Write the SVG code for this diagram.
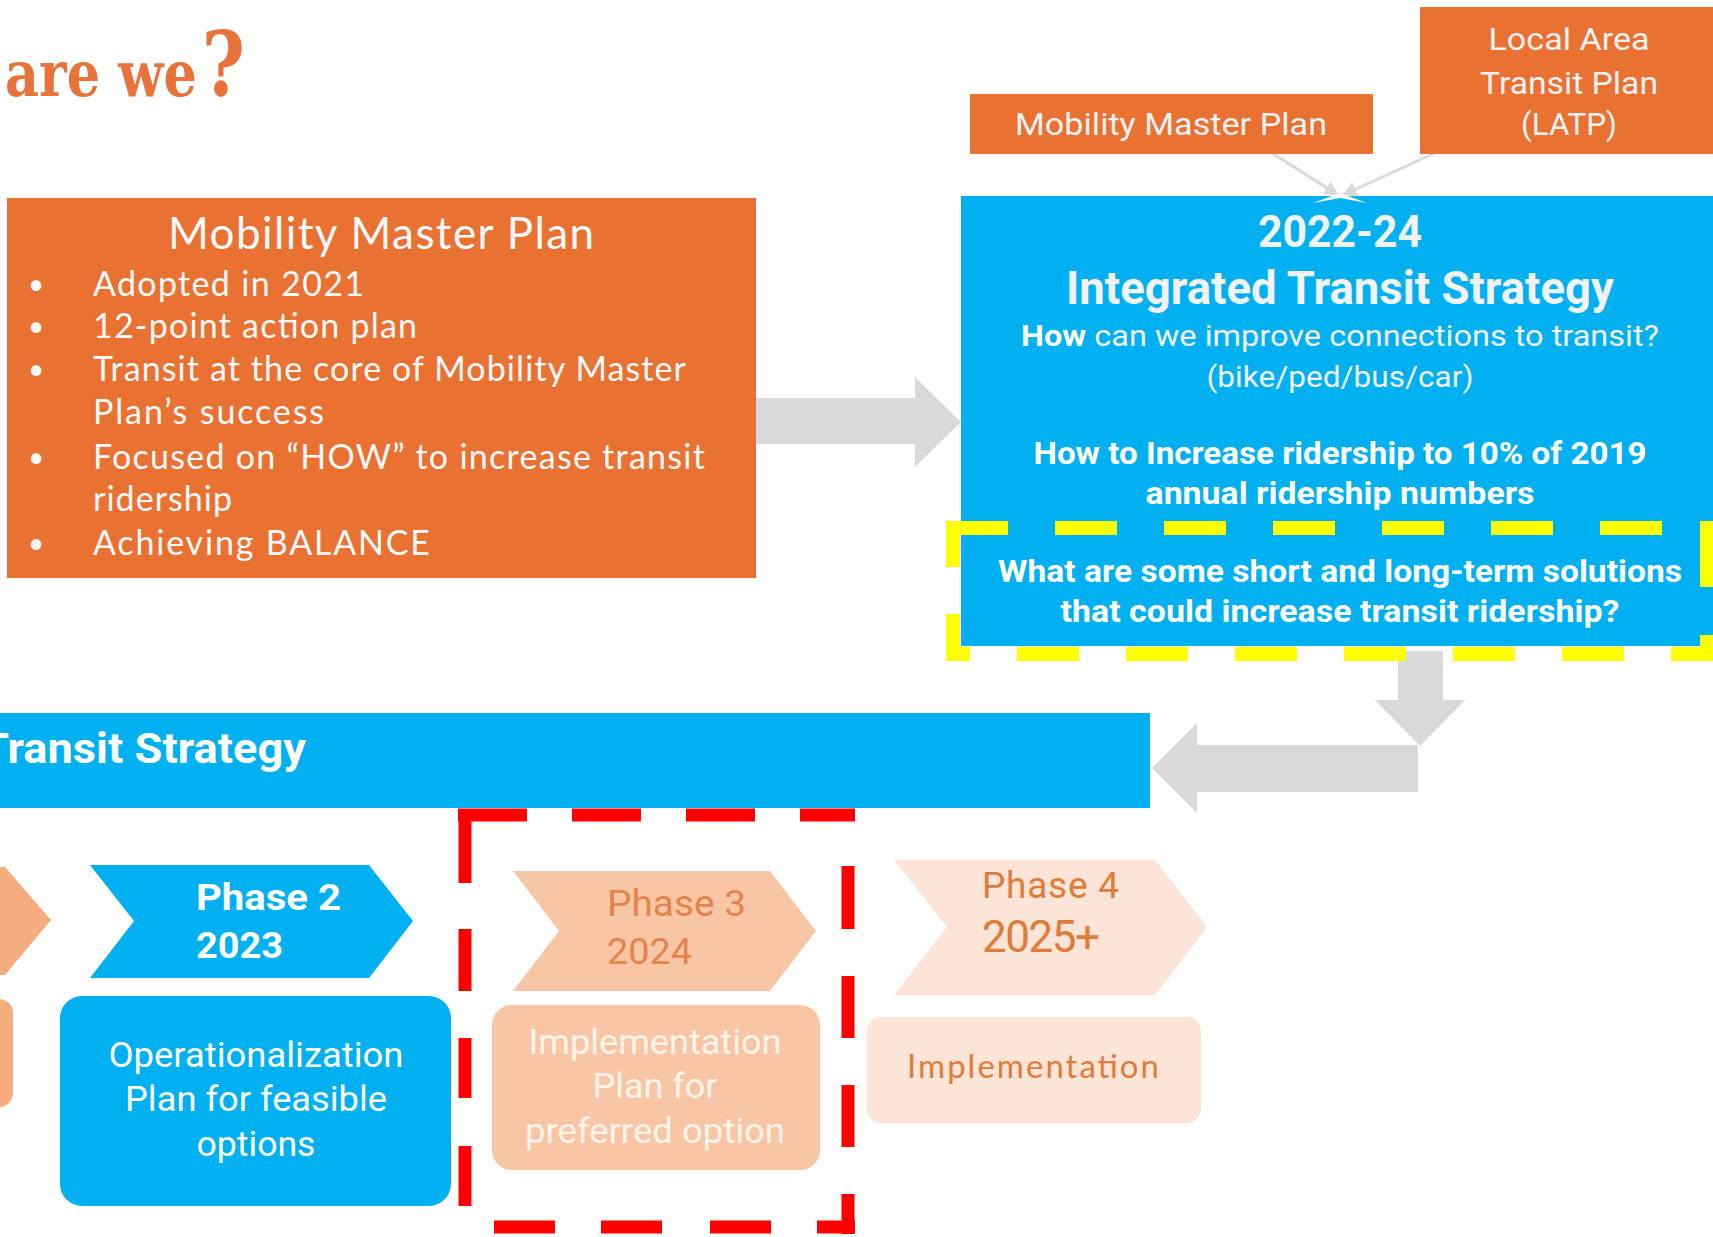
<svg xmlns="http://www.w3.org/2000/svg" width="1713" height="1237" viewBox="0 0 1713 1237">
<style>
.orange{fill:#E97132}
.blue{fill:#00B0F0}
.grey{fill:#D9D9D9}
.nun{font-family:Lato,"Open Sans",sans-serif;fill:#FAFAFA}
.cond{font-family:Roboto,"Liberation Sans",sans-serif}
.lt{fill:#F2F2F2}
.wt{fill:#FFFFFF}
.ph{fill:#E4834A}
.mid{text-anchor:middle}
.ydash{stroke:#FFFF00;stroke-width:14;fill:none}
.rdash{stroke:#FF0000;stroke-width:13;fill:none}
</style>
<defs>
<marker id="ah" viewBox="0 0 10 10" refX="9" refY="5" markerWidth="5" markerHeight="5" orient="auto" markerUnits="strokeWidth">
<path d="M0,0 L10,5 L0,10 z" fill="#D9D9D9"/>
</marker>
</defs>
<rect width="1713" height="1237" fill="#FFFFFF"/>

<g id="title">
<text transform="translate(5,96) scale(0.82,1)" font-family="'DejaVu Serif',serif" font-weight="bold" font-size="64" fill="#E8733A">are we<tspan font-size="90" dx="6">?</tspan></text>
</g>

<g id="connectors">
<polygon class="grey" points="756,398 915,398 915,377 961,422 915,467 915,444 756,444"/>
<polygon class="grey" points="1398,651 1443,651 1443,700 1465,700 1420,746 1375,700 1398,700"/>
<polygon class="grey" points="1418,745 1197,745 1197,723 1152,768 1197,813 1197,792 1418,792"/>
<line x1="1272" y1="153" x2="1338" y2="195" stroke="#D9D9D9" stroke-width="3" marker-end="url(#ah)"/>
<line x1="1437" y1="152" x2="1343" y2="195" stroke="#D9D9D9" stroke-width="3" marker-end="url(#ah)"/>
</g>

<g id="mmp-box">
<rect class="orange" x="7" y="198" width="749" height="380"/>
<text class="nun mid" x="381" y="249" font-size="44" textLength="426">Mobility Master Plan</text>
<g font-size="34" class="nun">
<text x="28" y="294" font-size="28">•</text>
<text x="93" y="296" textLength="271">Adopted in 2021</text>
<text x="28" y="336" font-size="28">•</text>
<text x="93" y="338" textLength="324">12-point action plan</text>
<text x="28" y="379" font-size="28">•</text>
<text x="93" y="381" textLength="593">Transit at the core of Mobility Master</text>
<text x="93" y="424" textLength="231">Plan’s success</text>
<text x="28" y="467" font-size="28">•</text>
<text x="93" y="469" textLength="612">Focused on “HOW” to increase transit</text>
<text x="93" y="511" textLength="139">ridership</text>
<text x="28" y="553" font-size="28">•</text>
<text x="93" y="555" textLength="337">Achieving BALANCE</text>
</g>
</g>

<g id="mmp-small">
<rect class="orange" x="970" y="94" width="403" height="60"/>
<text class="cond lt mid" x="1171" y="135" font-size="32" textLength="312" lengthAdjust="spacingAndGlyphs">Mobility Master Plan</text>
</g>

<g id="latp">
<rect class="orange" x="1420" y="7" width="293" height="147"/>
<text class="cond lt mid" x="1569" y="50" font-size="32" textLength="161" lengthAdjust="spacingAndGlyphs">Local Area</text>
<text class="cond lt mid" x="1569" y="94" font-size="32" textLength="178" lengthAdjust="spacingAndGlyphs">Transit Plan</text>
<text class="cond lt mid" x="1569" y="135" font-size="32" textLength="96" lengthAdjust="spacingAndGlyphs">(LATP)</text>
</g>

<g id="its">
<rect class="blue" x="961" y="196" width="752" height="450"/>
<polygon fill="#FFFFFF" points="1313,203 1340,193 1367,203 1340,198"/>
<text class="cond lt mid" x="1340" y="247" font-size="44" font-weight="bold" textLength="164" lengthAdjust="spacingAndGlyphs">2022-24</text>
<text class="cond lt mid" x="1340" y="304" font-size="46" font-weight="bold" textLength="548" lengthAdjust="spacingAndGlyphs">Integrated Transit Strategy</text>
<text class="cond lt mid" x="1340" y="346" font-size="30" textLength="638" lengthAdjust="spacingAndGlyphs"><tspan font-weight="bold" fill="#FFFFFF">How</tspan> can we improve connections to transit?</text>
<text class="cond lt mid" x="1340" y="387" font-size="30" textLength="267" lengthAdjust="spacingAndGlyphs">(bike/ped/bus/car)</text>
<text class="cond wt mid" x="1340" y="464" font-size="31" font-weight="bold" textLength="613" lengthAdjust="spacingAndGlyphs">How to Increase ridership to 10% of 2019</text>
<text class="cond wt mid" x="1340" y="504" font-size="31" font-weight="bold" textLength="389" lengthAdjust="spacingAndGlyphs">annual ridership numbers</text>
<text class="cond wt mid" x="1340" y="582" font-size="31" font-weight="bold" textLength="684" lengthAdjust="spacingAndGlyphs">What are some short and long-term solutions</text>
<text class="cond wt mid" x="1340" y="622" font-size="31" font-weight="bold" textLength="559" lengthAdjust="spacingAndGlyphs">that could increase transit ridership?</text>
<line class="ydash" x1="946" y1="528" x2="1714" y2="528" stroke-dasharray="62 47"/>
<line class="ydash" x1="953" y1="521" x2="953" y2="661" stroke-dasharray="46 47"/>
<line class="ydash" x1="1707" y1="521" x2="1707" y2="661" stroke-dasharray="66 48"/>
<line class="ydash" x1="946" y1="654" x2="1714" y2="654" stroke-dasharray="62 47" stroke-dashoffset="38"/>
</g>

<g id="strategy-bar">
<rect class="blue" x="-5" y="713" width="1155" height="95"/>
<text class="cond wt" x="306" y="763" font-size="42" font-weight="bold" text-anchor="end" textLength="325" lengthAdjust="spacingAndGlyphs">Transit Strategy</text>
</g>

<g id="phase1">
<polygon fill="#F4AC80" points="-20,867 5,867 51,920 5,975 -20,975"/>
<rect fill="#F4AC80" x="-30" y="999" width="43" height="108" rx="14"/>
</g>

<g id="phase2">
<polygon class="blue" points="90,865 369,865 413,921 369,978 90,978 134,921"/>
<text class="cond wt" x="196" y="910" font-size="37" font-weight="bold" textLength="145" lengthAdjust="spacingAndGlyphs">Phase 2</text>
<text class="cond wt" x="196" y="958" font-size="37" font-weight="bold" textLength="87" lengthAdjust="spacingAndGlyphs">2023</text>
<rect class="blue" x="60" y="996" width="391" height="210" rx="22"/>
<text class="cond wt mid" x="256" y="1067" font-size="35" textLength="295" lengthAdjust="spacingAndGlyphs">Operationalization</text>
<text class="cond wt mid" x="256" y="1111" font-size="35" textLength="262" lengthAdjust="spacingAndGlyphs">Plan for feasible</text>
<text class="cond wt mid" x="256" y="1156" font-size="35" textLength="119" lengthAdjust="spacingAndGlyphs">options</text>
</g>

<g id="phase3">
<polygon fill="#F8C6A5" points="513,871 770,871 816,931 770,991 513,991 559,931"/>
<text class="cond ph" x="607" y="916" font-size="37" textLength="139" lengthAdjust="spacingAndGlyphs">Phase 3</text>
<text class="cond ph" x="607" y="964" font-size="37" textLength="85" lengthAdjust="spacingAndGlyphs">2024</text>
<rect fill="#F8C6A5" x="492" y="1005" width="328" height="165" rx="20"/>
<text class="cond mid" fill="#FFF4EC" x="655" y="1054" font-size="35" textLength="253" lengthAdjust="spacingAndGlyphs">Implementation</text>
<text class="cond mid" fill="#FFF4EC" x="655" y="1098" font-size="35" textLength="125" lengthAdjust="spacingAndGlyphs">Plan for</text>
<text class="cond mid" fill="#FFF4EC" x="655" y="1143" font-size="35" textLength="260" lengthAdjust="spacingAndGlyphs">preferred option</text>
</g>

<g id="phase4">
<polygon fill="#FCE4D6" points="894,860 1155,860 1207,927 1155,995 894,995 947,927"/>
<text font-family="Roboto,'Liberation Sans',sans-serif" fill="#E07B39" x="982" y="898" font-size="37" textLength="137">Phase 4</text>
<text font-family="Roboto,'Liberation Sans',sans-serif" fill="#E07B39" x="982" y="952" font-size="44" textLength="118">2025+</text>
<rect fill="#FCE4D6" x="867" y="1017" width="334" height="106" rx="14"/>
<text font-family="Lato,'Open Sans',sans-serif" fill="#E07B39" x="1033" y="1078" font-size="33" text-anchor="middle" textLength="252">Implementation</text>
</g>

<g id="red-box">
<line class="rdash" x1="458" y1="815" x2="855" y2="815" stroke-dasharray="69 45"/>
<line class="rdash" x1="465" y1="815" x2="465" y2="1234" stroke-dasharray="68 46 62 47 60 48 60"/>
<line class="rdash" x1="848" y1="815" x2="848" y2="1234" stroke-dasharray="0 51 63 47 62 47 62 47 62"/>
<line class="rdash" x1="458" y1="1227" x2="855" y2="1227" stroke-dasharray="0 36 61 46 61 48 61 46 40"/>
</g>
</svg>
